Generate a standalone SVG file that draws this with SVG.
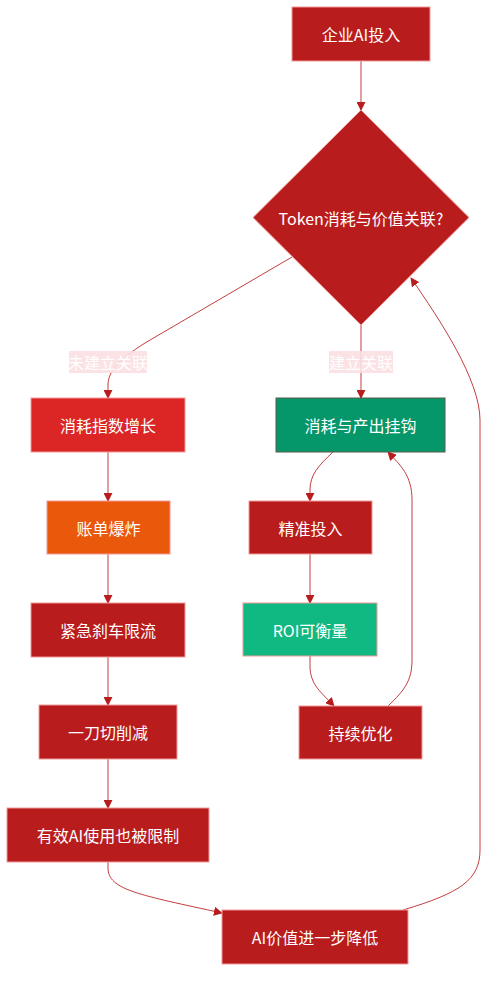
<svg xmlns="http://www.w3.org/2000/svg" width="497" height="987" viewBox="0 0 497 987">
<defs>
<marker id="arr" viewBox="0 0 10 10" refX="9" refY="5" markerWidth="9" markerHeight="9" markerUnits="userSpaceOnUse" orient="auto">
<path d="M0,0 L10,5 L0,10 z" fill="#b91c1c"/>
</marker>
<style>
.n rect,.n polygon{stroke:#f29a9a;stroke-width:1}
.t{font-family:"Noto Sans CJK SC","Noto Sans",sans-serif;font-size:16px;fill:#ffffff;text-anchor:middle;dominant-baseline:central}
.e{fill:none;stroke:#b91c1c;stroke-opacity:0.85;stroke-width:1;marker-end:url(#arr)}
.lb{fill:#fbdfe1;opacity:0.9}
.lt{font-family:"Noto Sans CJK SC","Noto Sans",sans-serif;font-size:16px;fill:#ffffff;text-anchor:middle;dominant-baseline:central}
</style>
</defs>
<rect width="497" height="987" fill="#ffffff"/>
<g id="connectors">
<path class="e" d="M361,61 L361,110"/>
<path class="e" d="M292,257 L145,343 C118,360 108,372 108,385 L108,398"/>
<path class="e" d="M361,325 L361,398"/>
<path class="e" d="M108,452 L108,501"/>
<path class="e" d="M108,554 L108,603"/>
<path class="e" d="M108,657 L108,705"/>
<path class="e" d="M108,759 L108,808"/>
<path class="e" d="M108,862 L108,868 C108,890 140,895 222,913"/>
<path class="e" d="M333,452 C318,466 310,475 310,490 L310,501"/>
<path class="e" d="M310,554 L310,603"/>
<path class="e" d="M310,656 L310,666 C310,685 322,693 334,706"/>
<path class="e" d="M388,706 C405,690 412,680 412,660 L412,500 C412,475 400,465 388,452"/>
<path class="e" d="M403,910 C460,893 480,880 480,850 L480,420 C480,380 440,320 411,278"/>
</g>
<g id="edge-labels">
<g id="label-no">
<rect class="lb" x="69" y="351" width="78" height="22"/>
<text class="lt" x="108" y="362">未建立关联</text>
</g>
<g id="label-yes">
<rect class="lb" x="329" y="351" width="64" height="22"/>
<text class="lt" x="361" y="362">建立关联</text>
</g>
</g>
<g id="node-invest" class="n">
<rect x="292" y="7" width="138" height="54" fill="#b91c1c"/>
<text class="t" x="361" y="34">企业AI投入</text>
</g>
<g id="node-decision" class="n">
<polygon points="361,110 469,217.5 361,325 253,217.5" fill="#b91c1c"/>
<text class="t" x="361" y="218">Token消耗与价值关联?</text>
</g>
<g id="node-growth" class="n">
<rect x="31" y="398" width="154" height="54" fill="#dc2626"/>
<text class="t" x="108" y="425">消耗指数增长</text>
</g>
<g id="node-bill" class="n">
<rect x="47" y="501" width="123" height="53" fill="#ea580c"/>
<text class="t" x="108.5" y="527.5">账单爆炸</text>
</g>
<g id="node-brake" class="n">
<rect x="31" y="603" width="154" height="54" fill="#b91c1c"/>
<text class="t" x="108" y="630">紧急刹车限流</text>
</g>
<g id="node-cut" class="n">
<rect x="39" y="705" width="138" height="54" fill="#b91c1c"/>
<text class="t" x="108" y="732">一刀切削减</text>
</g>
<g id="node-limit" class="n">
<rect x="7" y="808" width="202" height="54" fill="#b91c1c"/>
<text class="t" x="108" y="835">有效AI使用也被限制</text>
</g>
<g id="node-lower" class="n">
<rect x="222" y="910" width="186" height="54" fill="#b91c1c"/>
<text class="t" x="315" y="937">AI价值进一步降低</text>
</g>
<g id="node-link" class="n">
<rect x="276" y="398" width="169" height="54" fill="#059669" style="stroke:#5b5b4b"/>
<text class="t" x="360.5" y="425">消耗与产出挂钩</text>
</g>
<g id="node-precise" class="n">
<rect x="249" y="501" width="123" height="53" fill="#b91c1c"/>
<text class="t" x="310.5" y="527.5">精准投入</text>
</g>
<g id="node-roi" class="n">
<rect x="243" y="603" width="134" height="53" fill="#10b981"/>
<text class="t" x="310" y="629.5">ROI可衡量</text>
</g>
<g id="node-optimize" class="n">
<rect x="299" y="706" width="123" height="53" fill="#b91c1c"/>
<text class="t" x="360.5" y="732.5">持续优化</text>
</g>
</svg>
